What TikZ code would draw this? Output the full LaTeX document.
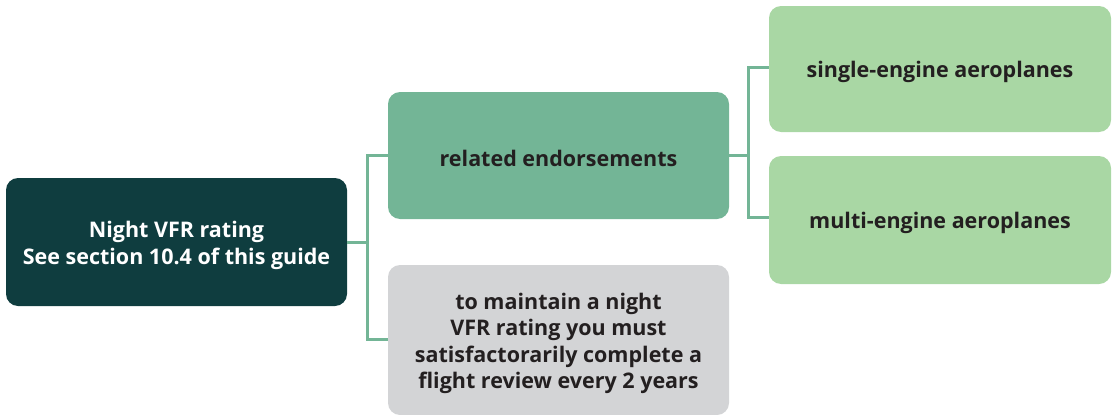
\documentclass[tikz,border=0pt]{standalone}
\usepackage{fontspec}
\setmainfont{Open Sans}
\definecolor{rootc}{HTML}{0F3D3F}
\definecolor{midc}{HTML}{73B596}
\definecolor{leafc}{HTML}{A9D7A4}
\definecolor{grayc}{HTML}{D3D4D6}
\definecolor{txt}{HTML}{231F20}
\definecolor{linec}{HTML}{73B596}
\begin{document}
\begin{tikzpicture}[x=1pt,y=-1pt,
  box/.style={rounded corners=12pt, minimum width=341pt, inner sep=0pt},
  lbl/.style={align=center, inner sep=0pt, font=\bfseries\fontsize{21.5}{26.5}\selectfont, text=txt},
  conn/.style={draw=linec, line width=3pt}]
\useasboundingbox (0,0) rectangle (1114,415);
\node[box, fill=rootc, minimum height=128pt] (root) at (176.5,242) {};
\node[box, fill=midc, minimum height=127pt] (rel) at (558.5,155.5) {};
\node[box, fill=grayc, minimum height=150pt] (gray) at (558.5,340) {};
\node[box, fill=leafc, minimum width=342pt, minimum height=126pt] (single) at (940,69) {};
\node[box, fill=leafc, minimum width=342pt, minimum height=128pt] (multi) at (940,220) {};
\node[lbl, text=white] (troot) at ([yshift=-3.5pt]root.center) {Night VFR rating\\See section 10.4 of this guide};
\node[lbl] (trel) at ([yshift=-3pt]rel.center) {related endorsements};
\node[lbl] (tgray) at ([yshift=-3.5pt]gray.center) {to maintain a night\\VFR rating you must\\satisfactorarily complete a\\flight review every 2 years};
\node[lbl] (tsingle) at ([yshift=-3pt]single.center) {single-engine aeroplanes};
\node[lbl] (tmulti) at ([yshift=-3pt]multi.center) {multi-engine aeroplanes};
\coordinate (j1) at (367,242);
\coordinate (j2) at (748,155.5);
\draw[conn] (root.east) -- (j1);
\draw[conn] (rel.west) -- (j1 |- rel.west) -- (j1 |- 0,339) -- (gray.west |- 0,339);
\draw[conn] (rel.east) -- (j2);
\draw[conn] (single.west |- 0,67) -- (j2 |- 0,67) -- (j2 |- 0,217) -- (multi.west |- 0,217);
\end{tikzpicture}
\end{document}
